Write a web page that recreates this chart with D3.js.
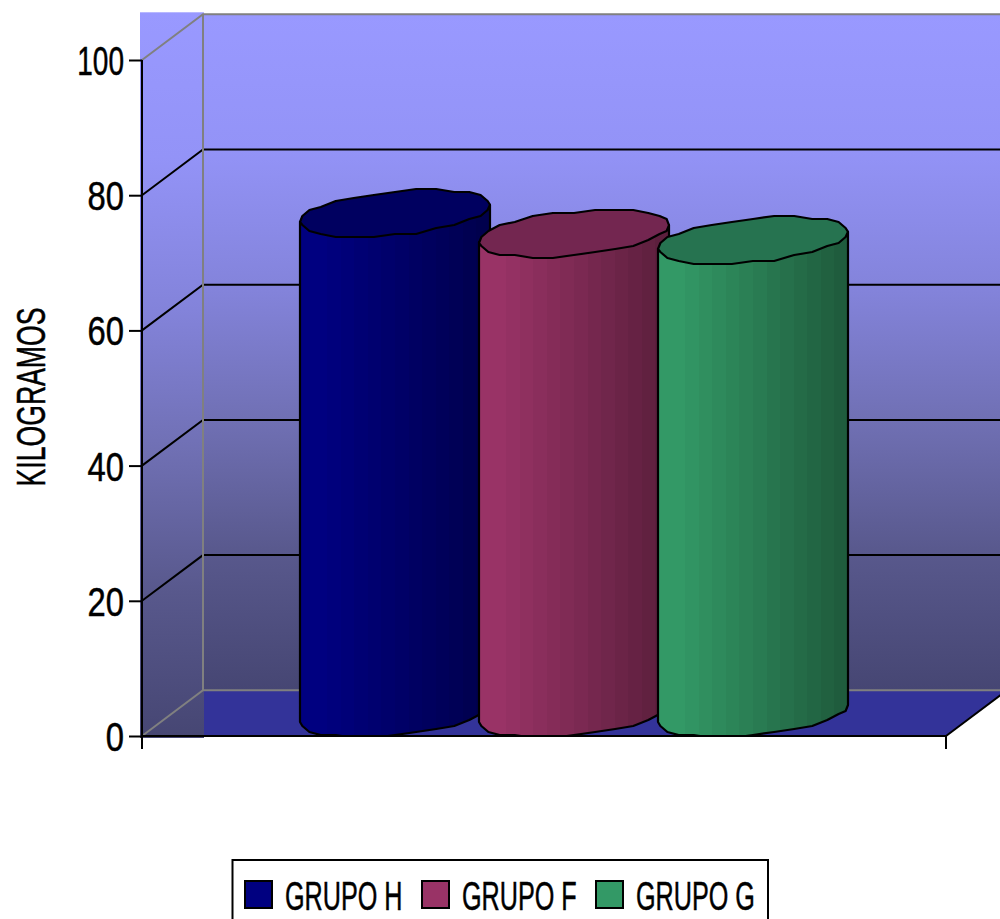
<!DOCTYPE html>
<html>
<head>
<meta charset="utf-8">
<script src="https://cdn.jsdelivr.net/npm/d3@7/dist/d3.min.js"></script>
<style>
html,body{margin:0;padding:0;background:#fff;overflow:hidden}
svg{display:block}
text{font-family:"Liberation Sans",sans-serif;fill:#000;stroke:#000;stroke-width:0.5px}
</style>
</head>
<body>
<svg id="chart" width="1000" height="919"></svg>
<script>
const groups = ["GRUPO H", "GRUPO F", "GRUPO G"];
const kilos = [74, 71, 70];
const sideColors = ["#000080", "#993366", "#339966"];
const capColors = ["#000060", "#732650", "#267350"];
const endColors = ["#00004d", "#5c1f3d", "#1f5c3d"];
const yTicks = [0, 20, 40, 60, 80, 100];
const yTitle = "KILOGRAMOS";
const wallStops = [[0, "#9999ff"], [0.2, "#9393f7"], [0.41, "#8383da"], [0.6, "#7070b4"], [0.8, "#58588c"], [1, "#464673"]];
const legendLeft = [245, 422, 596];

const svg = d3.select("#chart");
const defs = svg.append("defs");

// Projection of the 3D box: front plane plus a fixed depth offset
const depthX = 61, depthY = -45.7;
const y = d3.scaleLinear().domain([0, 100]).range([736, 60]);
const xFront = [142, 946];
const xCentre = d3.scalePoint().domain(groups).range([395, 753]);
const radiusX = 95, radiusY = 22, tilt = -8.5, depthMid = -22.5;

const wall = defs.append("linearGradient").attr("id", "wall")
  .attr("x1", 0).attr("y1", 0).attr("x2", 0).attr("y2", 1);
wallStops.forEach(s => wall.append("stop").attr("offset", s[0]).attr("stop-color", s[1]));

defs.append("clipPath").attr("id", "aboveFloorEdge").append("rect")
  .attr("x", 0).attr("y", 0).attr("width", 1000).attr("height", y(0));

// Floor
svg.append("polygon").attr("fill", "#333399")
  .attr("points", [[xFront[0], y(0)], [xFront[0] + depthX, y(0) + depthY],
    [xFront[1] + depthX, y(0) + depthY], [xFront[1], y(0)]].join(" "));

// Side wall and back wall
svg.append("rect").attr("x", xFront[0] - 2).attr("y", y(100) + depthY - 2)
  .attr("width", depthX + 3).attr("height", y(0) - y(100) - depthY + 4)
  .attr("fill", "url(#wall)");
svg.append("rect").attr("x", xFront[0] + depthX).attr("y", y(100) + depthY)
  .attr("width", 1000 - xFront[0] - depthX).attr("height", y(0) - y(100))
  .attr("fill", "url(#wall)");

// Grid lines wrap from the side wall onto the back wall
yTicks.forEach(t => {
  const edge = t === 0 || t === 100;
  svg.append("polyline").attr("fill", "none")
    .attr("stroke", edge ? "#808080" : "#000").attr("stroke-width", 2)
    .attr("points", [[xFront[0], y(t)], [xFront[0] + depthX, y(t) + depthY],
      [xFront[1] + depthX, y(t) + depthY]].join(" "));
});
svg.append("line").attr("stroke", "#808080").attr("stroke-width", 2)
  .attr("x1", xFront[0] + depthX).attr("x2", xFront[0] + depthX)
  .attr("y1", y(100) + depthY).attr("y2", y(0) + depthY);
svg.append("line").attr("stroke", "#000").attr("stroke-width", 2)
  .attr("x1", xFront[1]).attr("y1", y(0))
  .attr("x2", xFront[1] + depthX).attr("y2", y(0) + depthY);

// Device-unit rounding gives the cylinder outlines their slightly uneven edge
const snap = v => Math.round(v / 3) * 3;
const step = Math.PI / 14;
function rim(cx, cy, from, to) {
  const n = Math.round(Math.abs(to - from) / step);
  return d3.range(n + 1).map(i => {
    const t = from + (to - from) * i / n;
    const px = cx + radiusX * Math.cos(t);
    const py = cy + radiusY * Math.sin(t) + tilt * Math.cos(t);
    const atEnd = i === 0 || i === n;
    return [px, atEnd ? py : snap(py)];
  });
}
const line = d3.line();

const bars = svg.append("g").attr("clip-path", "url(#aboveFloorEdge)");
groups.forEach((g, i) => {
  const cx = xCentre(g);
  const grad = defs.append("linearGradient").attr("id", "side" + i);
  const shade = d3.interpolateRgb(sideColors[i], endColors[i]);
  const bands = 14;
  d3.range(bands).forEach(b => {
    const c = shade(b < 2 ? 0 : (b - 1) / (bands - 2));
    grad.append("stop").attr("offset", b / bands).attr("stop-color", c);
    grad.append("stop").attr("offset", (b + 1) / bands).attr("stop-color", c);
  });
  const top = y(kilos[i]) + depthMid;
  const base = y(0) + depthMid;
  const lower = rim(cx, base, Math.PI, 0);
  const front = rim(cx, top, Math.PI, 0);
  const wholeTop = rim(cx, top, 0, 2 * Math.PI);
  const bar = bars.append("g");
  bar.append("path")
    .attr("d", line([front[0], ...lower, front[front.length - 1]]) + "Z")
    .attr("fill", `url(#side${i})`).attr("stroke", "#000").attr("stroke-width", 2.2)
    .attr("stroke-linejoin", "round");
  bar.append("path")
    .attr("d", line(wholeTop) + "Z")
    .attr("fill", capColors[i]).attr("stroke", "#000").attr("stroke-width", 2.2)
    .attr("stroke-linejoin", "round");
});

// Value axis: the narrow digit widths leave the three-digit label tighter
const axis = svg.append("g").attr("transform", `translate(${xFront[0]},0)`)
  .call(d3.axisLeft(y).tickValues(yTicks).tickSize(13).tickPadding(5));
axis.selectAll("path").attr("stroke", "#000").attr("stroke-width", 2).attr("d", `M0,${y(100)}V${y(0)}`);
axis.selectAll("line").attr("stroke", "#000").attr("stroke-width", 2);
axis.selectAll("text").attr("font-family", null).attr("x", 0).attr("dy", "0.36em")
  .attr("transform", d => `translate(-18,0) scale(${d >= 100 ? 0.70 : 0.82},1)`)
  .style("font-size", "40px");

// Category axis
svg.append("line").attr("stroke", "#000").attr("stroke-width", 2)
  .attr("x1", xFront[0]).attr("x2", xFront[1]).attr("y1", y(0)).attr("y2", y(0));
xFront.forEach(x => svg.append("line").attr("stroke", "#000").attr("stroke-width", 2)
  .attr("x1", x).attr("x2", x).attr("y1", y(0)).attr("y2", y(0) + 13));

// Axis title
svg.append("text").attr("transform", "translate(45,397) rotate(-90) scale(0.665,1)")
  .attr("text-anchor", "middle").style("font-size", "40px").text(yTitle);

// Legend
svg.append("rect").attr("x", 232.5).attr("y", 860).attr("width", 535.5).attr("height", 70)
  .attr("fill", "#fff").attr("stroke", "#000").attr("stroke-width", 2);
groups.forEach((g, i) => {
  svg.append("rect").attr("x", legendLeft[i]).attr("y", 881).attr("width", 27).attr("height", 27)
    .attr("fill", sideColors[i]).attr("stroke", "#000").attr("stroke-width", 2);
  svg.append("text").attr("transform", `translate(${legendLeft[i] + 40},909.5) scale(0.63,1)`)
    .style("font-size", "40px").text(g);
});
</script>
</body>
</html>
